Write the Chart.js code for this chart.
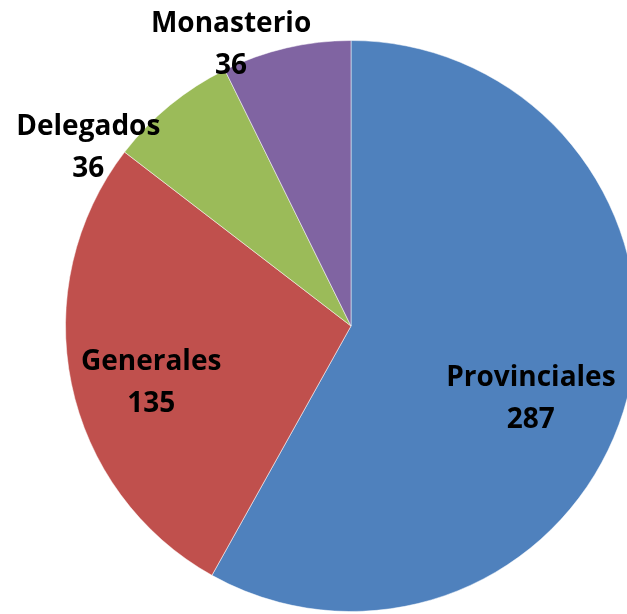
<!DOCTYPE html>
<html>
<head>
<meta charset="utf-8">
<script src="https://cdn.jsdelivr.net/npm/chart.js@4"></script>
<style>
  html, body { margin: 0; padding: 0; background: #fff; overflow: hidden; }
  #wrap { position: absolute; left: 0; top: 0; width: 702px; height: 653px; }
</style>
</head>
<body>
<div id="wrap"><canvas id="pie" width="702" height="653"></canvas></div>
<script>
const CATEGORIES = ['Provinciales', 'Generales', 'Delegados', 'Monasterio'];
const VALUES = [287, 135, 36, 36];
const COLORS = ['#4F81BD', '#C0504D', '#9BBB59', '#8064A2'];

// where each label block sits, as a fraction of the radius from the centre
const LABEL_POS = [[0.63, 0.255], [-0.70, 0.20], [-0.92, -0.625], [-0.42, -0.985]];

const pieLabels = {
  id: 'pieLabels',
  afterDatasetsDraw(chart) {
    const ctx = chart.ctx;
    const arcs = chart.getDatasetMeta(0).data;
    ctx.save();
    ctx.fillStyle = '#000';
    ctx.font = 'bold 28px "Open Sans", Lato, sans-serif';
    ctx.textAlign = 'center';
    ctx.textBaseline = 'middle';
    arcs.forEach((arc, i) => {
      const r = arc.outerRadius;
      const cx = arc.x + LABEL_POS[i][0] * r;
      const cy = arc.y + LABEL_POS[i][1] * r;
      ctx.fillText(CATEGORIES[i], cx, cy - 21);
      ctx.fillText(String(VALUES[i]), cx, cy + 21);
    });
    ctx.restore();
  }
};

new Chart(document.getElementById('pie'), {
  type: 'pie',
  data: {
    labels: CATEGORIES,
    datasets: [{
      data: VALUES,
      backgroundColor: COLORS,
      borderColor: 'rgba(255,255,255,0.5)',
      borderWidth: 1
    }]
  },
  options: {
    responsive: false,
    animation: false,
    layout: { padding: { left: 65, right: 65, top: 40, bottom: 41 } },
    plugins: { legend: { display: false }, tooltip: { enabled: false } }
  },
  plugins: [pieLabels]
});
</script>
</body>
</html>
